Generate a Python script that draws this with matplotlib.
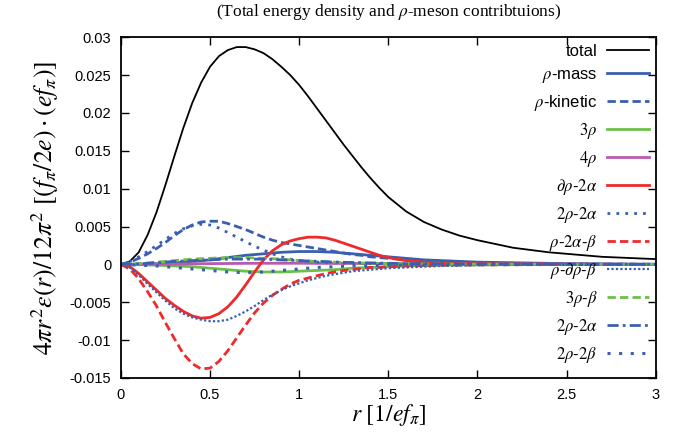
import matplotlib
matplotlib.use("Agg")
import matplotlib.pyplot as plt
import numpy as np

plt.rcParams['font.family'] = ['Liberation Sans', 'DejaVu Sans']
plt.rcParams['mathtext.fontset'] = 'stix'
plt.rcParams['axes.unicode_minus'] = False

# radial grid (fine for the big curves, coarse for the small ones)
r_fine = [0.0, 0.05, 0.1, 0.15, 0.2, 0.25, 0.3, 0.35, 0.4, 0.45, 0.5, 0.55, 0.6, 0.65,
          0.7, 0.75, 0.8, 0.85, 0.9, 0.95, 1.0, 1.05, 1.1, 1.15, 1.2, 1.25, 1.3, 1.35,
          1.4, 1.45, 1.5, 1.6, 1.7, 1.8, 1.9, 2.0, 2.1, 2.2, 2.3, 2.4, 2.5, 2.6, 2.7,
          2.8, 2.9, 3.0]
r_coarse = [0.0, 0.1, 0.2, 0.3, 0.4, 0.5, 0.6, 0.7, 0.8, 0.9, 1.0, 1.1, 1.2, 1.3, 1.4,
            1.5, 1.6, 1.7, 1.8, 1.9, 2.0, 2.5, 3.0]

total = [0.0, 0.0004, 0.0016, 0.0039, 0.0069, 0.0105, 0.0143, 0.0180, 0.0213, 0.0240,
         0.0261, 0.0275, 0.0283, 0.0287, 0.0287, 0.0284, 0.0279, 0.0271, 0.0261, 0.0250,
         0.0237, 0.0222, 0.0206, 0.0190, 0.0174, 0.0158, 0.0143, 0.0128, 0.0114, 0.0101,
         0.0089, 0.0070, 0.0056, 0.0046, 0.0038, 0.0032, 0.0027, 0.0022, 0.0019, 0.0016,
         0.0014, 0.0012, 0.0010, 0.0009, 0.0008, 0.0007]
rho_kin = [0.0, 0.0003, 0.0008, 0.0014, 0.0021, 0.0029, 0.0038, 0.0046, 0.0052, 0.0056,
           0.0057, 0.0057, 0.0054, 0.0050, 0.0046, 0.0041, 0.0036, 0.0032, 0.0029, 0.0027,
           0.0025, 0.0023, 0.0021, 0.0019, 0.0017, 0.0015, 0.0013, 0.0012, 0.0010, 0.0009,
           0.0008, 0.0006, 0.0005, 0.0004, 0.0003, 0.0002, 0.00015, 0.0001, 0.0001, 0.00008,
           0.00006, 0.00005, 0.00004, 0.00003, 0.00002, 0.00002]
d_rho_2a = [0.0, -0.0003, -0.0012, -0.0023, -0.0034, -0.0045, -0.0054, -0.0062, -0.0068, -0.0071,
            -0.0070, -0.0065, -0.0056, -0.0043, -0.0027, -0.0010, 0.0006, 0.0018, 0.0026, 0.0031,
            0.0034, 0.0036, 0.0036, 0.0035, 0.0032, 0.0028, 0.0024, 0.0020, 0.0016, 0.0012,
            0.0009, 0.0005, 0.0003, 0.0002, 0.0001, 0.0001, 0.00006, 0.00005, 0.00004, 0.00003,
            0.00002, 0.00002, 0.00001, 0.00001, 0.0, 0.0]
two_rho_2a = [0.0, 0.0004, 0.0010, 0.0017, 0.0025, 0.0033, 0.0041, 0.0047, 0.0051, 0.0053,
              0.0052, 0.0048, 0.0042, 0.0036, 0.0030, 0.0024, 0.0019, 0.0014, 0.0010, 0.0007,
              0.0005, 0.0004, 0.0003, 0.00025, 0.0002, 0.00018, 0.00015, 0.00012, 0.0001, 0.00009,
              0.00008, 0.00006, 0.00005, 0.00004, 0.00003, 0.00002, 0.00002, 0.00001, 0.00001, 0.0,
              0.0, 0.0, 0.0, 0.0, 0.0, 0.0]
rho_2a_b = [0.0, -0.0006, -0.0019, -0.0036, -0.0055, -0.0077, -0.0098, -0.0118, -0.0131, -0.0138,
            -0.0137, -0.0128, -0.0114, -0.0097, -0.0080, -0.0064, -0.0051, -0.0041, -0.0033, -0.0026,
            -0.0021, -0.0018, -0.0015, -0.0012, -0.0010, -0.0008, -0.0007, -0.0005, -0.0004, -0.0004,
            -0.0003, -0.0002, -0.00015, -0.0001, -0.00008, -0.00006, -0.00005, -0.00004, -0.00003, -0.00002,
            -0.00002, -0.00001, -0.00001, 0.0, 0.0, 0.0]
rho_drho_b = [0.0, -0.0004, -0.0014, -0.0026, -0.0037, -0.0048, -0.0058, -0.0065, -0.0070, -0.0073,
              -0.0075, -0.0075, -0.0073, -0.0068, -0.0062, -0.0055, -0.0047, -0.0040, -0.0034, -0.0029,
              -0.0025, -0.0021, -0.0018, -0.0015, -0.0013, -0.0011, -0.0009, -0.0008, -0.0007, -0.0006,
              -0.0005, -0.0004, -0.0003, -0.0002, -0.00015, -0.0001, -0.00008, -0.00006, -0.00005, -0.00004,
              -0.00003, -0.00002, -0.00002, -0.00001, -0.00001, 0.0]

rho_mass = [0.0, 0.00003, 0.0001, 0.0002, 0.0004, 0.0006, 0.0009, 0.0012, 0.0014, 0.0016, 0.0017,
            0.0017, 0.0016, 0.0014, 0.0012, 0.0010, 0.0008, 0.0006, 0.0005, 0.0004, 0.0003,
            0.0001, 0.00003]
three_rho = [0.0, -0.00003, -0.0001, -0.0002, -0.0003, -0.0005, -0.0007, -0.0009, -0.0010, -0.0010,
             -0.0009, -0.0008, -0.0007, -0.0005, -0.0004, -0.0003, -0.0002, -0.00015, -0.0001, -0.00007,
             -0.00005, -0.00002, 0.0]
four_rho = [0.0, 0.00001, 0.00003, 0.00005, 0.00008, 0.0001, 0.00012, 0.00014, 0.00015, 0.00015,
            0.00015, 0.00014, 0.00013, 0.00012, 0.00011, 0.0001, 0.00009, 0.00008, 0.00007, 0.00006,
            0.00005, 0.00002, 0.0]
three_rho_b = [0.0, 0.0001, 0.0003, 0.0005, 0.0007, 0.0008, 0.0009, 0.0009, 0.0008, 0.0007,
               0.0005, 0.0004, 0.0003, 0.0002, 0.00015, 0.0001, 0.00008, 0.00006, 0.00005, 0.00004,
               0.00003, 0.00001, 0.0]
two_rho_2a_b = [0.0, 0.00008, 0.0002, 0.0004, 0.0005, 0.0006, 0.0007, 0.0007, 0.0007, 0.0006,
                0.0005, 0.0004, 0.0003, 0.00025, 0.0002, 0.00015, 0.0001, 0.00008, 0.00006, 0.00005,
                0.00004, 0.00001, 0.0]
two_rho_2b = [0.0, -0.0001, -0.0002, -0.0004, -0.0006, -0.0008, -0.0010, -0.0011, -0.0010, -0.0008,
              -0.0006, -0.0004, -0.0003, -0.0002, -0.00015, -0.0001, -0.00008, -0.00006, -0.00005, -0.00004,
              -0.00003, -0.00001, 0.0]

blue = '#3a5fb0'
green = '#6cc04a'
magenta = '#b85aae'
red = '#ee2a2a'

fig = plt.figure(figsize=(6.83, 4.38), dpi=100)
ax = fig.add_axes([0.177, 0.137, 0.783, 0.778])

ax.plot(r_fine, total, color='black', lw=1.3, label='total')
ax.plot(r_coarse, rho_mass, color=blue, lw=2.0, label=r'$\rho$-mass')
ax.plot(r_fine, rho_kin, color=blue, lw=2.0, ls=(0, (3, 1.5)), label=r'$\rho$-kinetic')
ax.plot(r_coarse, three_rho, color=green, lw=2.0, label=r'$3\rho$')
ax.plot(r_coarse, four_rho, color=magenta, lw=2.0, label=r'$4\rho$')
ax.plot(r_fine, d_rho_2a, color=red, lw=2.0, label=r'$\partial\rho$-$2\alpha$')
ax.plot(r_fine, two_rho_2a, color=blue, lw=2.0, ls=(0, (1, 2.2)), label=r'$2\rho$-$2\alpha$')
ax.plot(r_fine, rho_2a_b, color=red, lw=2.0, ls=(0, (3, 1.5)), label=r'$\rho$-$2\alpha$-$\beta$')
ax.plot(r_fine, rho_drho_b, color=blue, lw=1.6, ls=(0, (1, 1)), label=r'$\rho$-$\partial\rho$-$\beta$')
ax.plot(r_coarse, three_rho_b, color=green, lw=2.0, ls=(0, (3, 1.5)), label=r'$3\rho$-$\beta$')
ax.plot(r_coarse, two_rho_2a_b, color=blue, lw=2.0, ls=(0, (4, 1.5, 1, 1.5)), label=r'$2\rho$-$2\alpha$')
ax.plot(r_coarse, two_rho_2b, color=blue, lw=2.2, ls=(0, (1, 2.8)), label=r'$2\rho$-$2\beta$')

ax.set_xlim(0, 3)
ax.set_ylim(-0.015, 0.03)
xt = [0, 0.5, 1, 1.5, 2, 2.5, 3]
ax.set_xticks(xt)
ax.set_xticklabels(['0', '0.5', '1', '1.5', '2', '2.5', '3'])
yt = [-0.015, -0.01, -0.005, 0, 0.005, 0.01, 0.015, 0.02, 0.025, 0.03]
ax.set_yticks(yt)
ax.set_yticklabels(['-0.015', '-0.01', '-0.005', '0', '0.005', '0.01', '0.015', '0.02', '0.025', '0.03'])
ax.tick_params(direction='in', top=True, right=True, length=6, width=1, labelsize=10.5, pad=7)
for s in ax.spines.values():
    s.set_linewidth(1.3)

ax.set_xlabel(r'$r\ [1/ef_\pi]$', fontsize=17, labelpad=0)
ax.set_ylabel(r'$4\pi r^2\varepsilon(r)/12\pi^2\ [(f_\pi/2e)\cdot(ef_\pi)]$', fontsize=18.5, labelpad=6)
ax.set_title('(Total energy density and $\\rho$-meson contribtuions)', fontsize=12.5,
             family='Liberation Serif', pad=15)

leg = ax.legend(loc='upper right', frameon=False, markerfirst=False, fontsize=12,
                handlelength=2.5, labelspacing=0.48, borderaxespad=0.2, borderpad=0.2,
                handletextpad=0.6)
for t in leg.get_texts():
    t.set_ha('right')
leg._legend_box.align = 'right'

fig.savefig('out.png', dpi=100)
